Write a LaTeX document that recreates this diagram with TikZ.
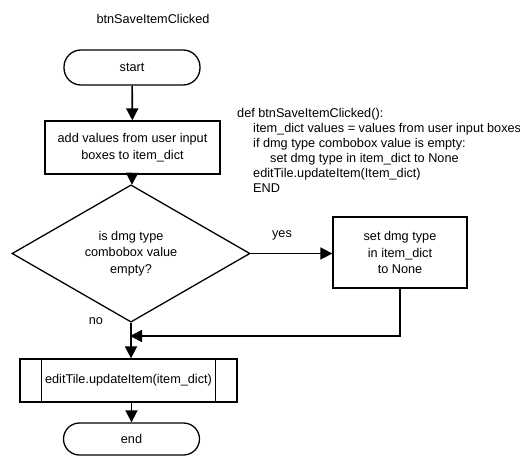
\documentclass[tikz,border=0pt]{standalone}
\usepackage{fontspec}
\setmainfont{Liberation Sans}
\usetikzlibrary{shapes.geometric,arrows.meta}
\begin{document}
\begin{tikzpicture}[x=1pt,y=-1pt,
  every node/.style={font=\fontsize{12.7}{16.5}\selectfont, inner sep=0pt},
  shp/.style={draw, line width=1.3pt, align=center},
  term/.style={shp, minimum width=136pt, minimum height=35pt, rounded corners=17pt},
  proc/.style={shp, rectangle},
  dec/.style={shp, diamond, minimum width=238pt, minimum height=119pt},
  conn/.style={line width=1.7pt, -{Triangle[length=12pt,width=12pt]}},
  lbl/.style={font=\fontsize{12.7}{15}\selectfont},
  code/.style={lbl, anchor=base west}]
\useasboundingbox (0,0) rectangle (520,466);
\node[lbl] (title) at (153,19) {btnSaveItemClicked};
\node[term] (start) at (132,67.5) {start};
\node[proc, minimum width=175pt, minimum height=53pt] (add) at (132.5,147.5) {add values from user input\\boxes to item\_dict};
\node[dec] (dec) at (131,253.5) {is dmg type\\combobox value\\empty?};
\node[proc, minimum width=134pt, minimum height=71pt] (set) at (400,252.5) {set dmg type\\in item\_dict\\to None};
\node[proc, minimum width=217pt, minimum height=43pt] (upd) at (128.5,380.5) {};
\draw[line width=1.3pt] ([xshift=22pt]upd.north west) -- ([xshift=22pt]upd.south west);
\draw[line width=1.3pt] ([xshift=-22pt]upd.north east) -- ([xshift=-22pt]upd.south east);
\node (updtext) at (128.5,380.5) {editTile.updateItem(item\_dict)};
\node[term, minimum height=32pt, rounded corners=16pt] (end) at (131.5,439) {end};
\coordinate (m) at (130,336);
\draw[conn] (start) -- (add);
\draw[conn] (add) -- (dec);
\draw[conn] (dec.east) -- (set.west |- dec.east);
\draw[conn] (set.south -| 400,0) |- (m);
\draw[conn] (dec.south) -- (upd.north -| dec.south);
\draw[conn] (upd.south -| end.north) -- (end.north);
\node[lbl] (yes) at (282,235) {yes};
\node[lbl] (no) at (96,321) {no};
\node[code] (c1) at (237,117) {def btnSaveItemClicked():};
\node[code] (c2) at (253,132) {item\_dict values = values from user input boxes};
\node[code] (c3) at (253,147) {if dmg type combobox value is empty:};
\node[code] (c4) at (270,162) {set dmg type in item\_dict to None};
\node[code] (c5) at (253,177) {editTile.updateItem(Item\_dict)};
\node[code] (c6) at (253,192) {END};
\end{tikzpicture}
\end{document}
